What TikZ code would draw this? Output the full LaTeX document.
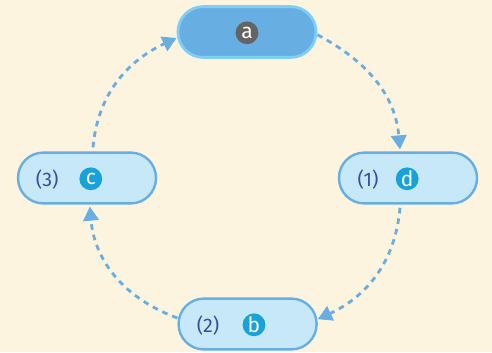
\documentclass[tikz,border=0pt]{standalone}
\usepackage{fontspec}
\setmainfont{Fira Sans}
\usetikzlibrary{arrows.meta}

\definecolor{paper}{HTML}{FDF4E0}
\definecolor{stepfill}{HTML}{C6E8F9}
\definecolor{stepline}{HTML}{67AEE2}
\definecolor{topline}{HTML}{7DCFF5}
\definecolor{numtext}{HTML}{3A4C9E}
\definecolor{dotblue}{HTML}{17A2DA}
\definecolor{dotgrey}{HTML}{646464}

\begin{document}
\begin{tikzpicture}[
    stepbox/.style={draw=stepline, fill=stepfill, line width=1.7pt,
      minimum width=3.45cm, minimum height=1.27cm, rounded corners=0.63cm},
    topbox/.style={stepbox, draw=topline, fill=stepline, line width=2pt},
    numlabel/.style={text=numtext, font=\fontsize{14}{14}\selectfont},
    letterdot/.style={circle, fill=dotblue, text=white, inner sep=0pt,
      minimum size=0.57cm, font=\fontsize{15}{15}\selectfont},
    loopline/.style={draw=stepline, line width=2pt, dash pattern=on 4pt off 3.6pt,
      -{Triangle[length=10pt,width=11pt]}}]
  \fill[paper] (0cm,0cm) rectangle (12.3cm,-8.8cm);
  \useasboundingbox (0cm,0cm) rectangle (12.3cm,-8.8cm);

  % the four steps
  \node[topbox] (a) at (6.175cm,-0.8cm) {};
  \node[stepbox] (d) at (10.2cm,-4.45cm) {};
  \node[stepbox] (b) at (6.19cm,-8.1cm) {};
  \node[stepbox] (c) at (2.175cm,-4.45cm) {};

  % texts inside the steps
  \node[letterdot, fill=dotgrey] (a-dot) at (6.175cm,-0.82cm) {a};
  \node[numlabel] (d-num) at (9.2cm,-4.5cm) {(1)};
  \node[letterdot] (d-dot) at (10.18cm,-4.47cm) {d};
  \node[numlabel] (b-num) at (5.2cm,-8.15cm) {(2)};
  \node[letterdot] (b-dot) at (6.35cm,-8.12cm) {b};
  \node[numlabel] (c-num) at (1.18cm,-4.5cm) {(3)};
  \node[letterdot] (c-dot) at (2.27cm,-4.47cm) {c};

  % dashed loop
  \draw[loopline] ([yshift=-0.07cm]a.east) to[out=-28,in=95] ([xshift=-0.2cm,yshift=0.05cm]d.north);
  \draw[loopline] ([xshift=-0.2cm,yshift=-0.08cm]d.south) to[out=-95,in=25] ([yshift=0.12cm]b.east);
  \draw[loopline] ([yshift=0.15cm]b.west) to[out=160,in=-85] ([xshift=0.07cm,yshift=-0.05cm]c.south);
  \draw[loopline] ([xshift=0.15cm,yshift=0.1cm]c.north) to[out=85,in=205] ([yshift=-0.15cm]a.west);
\end{tikzpicture}
\end{document}
